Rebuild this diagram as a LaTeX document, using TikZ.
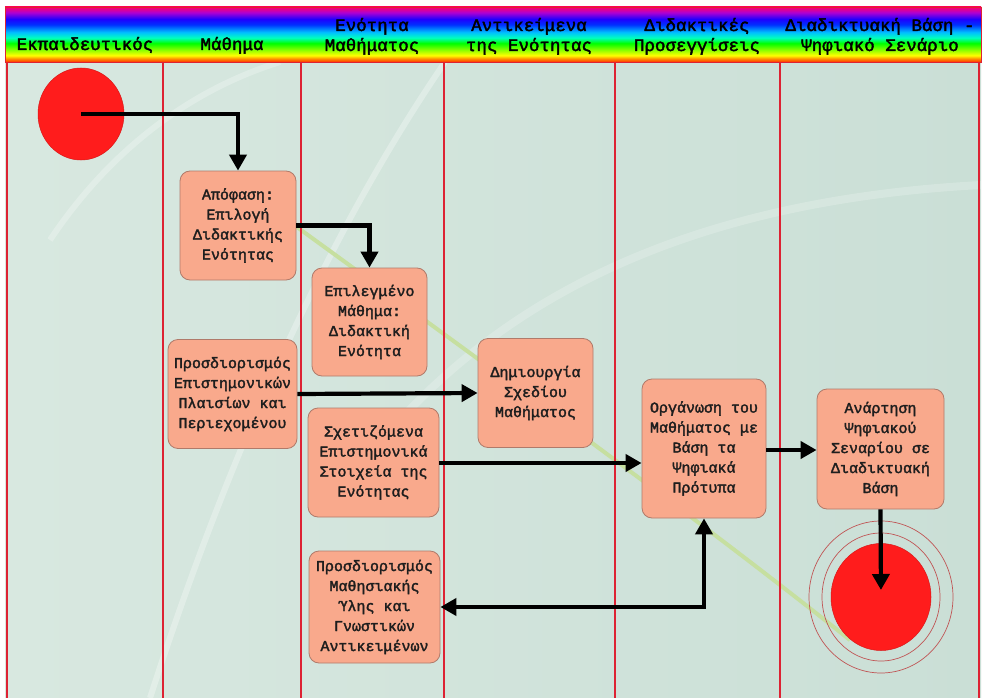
\documentclass[tikz,border=0pt]{standalone}
\usepackage{fontspec}
\newfontfamily\monof[FakeBold=2.2]{Liberation Mono}
\usetikzlibrary{arrows.meta,shapes.geometric}
\definecolor{bgL}{HTML}{D8E8E0}
\definecolor{bgR}{HTML}{CADFD6}
\definecolor{lane}{HTML}{DD2233}
\definecolor{boxfill}{HTML}{F9A98C}
\definecolor{boxline}{HTML}{B07A6A}
\definecolor{startred}{HTML}{FF1C1C}
\definecolor{ringred}{HTML}{C05555}
\definecolor{greenline}{HTML}{C6DFA0}
\definecolor{txt}{HTML}{1E1E1E}
\pgfdeclareverticalshading{rainbowhead}{100bp}{%
rgb(0bp)=(1,0.19,0);
rgb(25bp)=(1,0.19,0);
rgb(28bp)=(1,0.56,0);
rgb(31bp)=(1,1,0);
rgb(35bp)=(0.63,1,0);
rgb(42bp)=(0,1,0);
rgb(47bp)=(0,1,0.75);
rgb(52bp)=(0,0.75,1);
rgb(59bp)=(0,0.19,1);
rgb(64bp)=(0.12,0,1);
rgb(70bp)=(0.69,0,0.82);
rgb(75bp)=(1,0,0.4);
rgb(100bp)=(1,0,0.4)}
\tikzset{
  hdr/.style={font=\monof\fontsize{17.5}{20}\selectfont, text=black, inner sep=0pt, anchor=base},
  box/.style={rounded corners=10pt, fill=boxfill, draw=boxline, line width=0.8pt,
    align=center, font=\monof\fontsize{15}{20}\selectfont, text=txt, inner sep=2pt},
  arr/.style={line width=4.2pt, black, -{Triangle[length=16pt,width=17pt]}},
  arrboth/.style={line width=4.2pt, black, {Triangle[length=16pt,width=17pt]}-{Triangle[length=16pt,width=17pt]}},
  lanel/.style={lane, line width=2pt},
  streak/.style={white, opacity=0.3, line width=6pt},
}
\begin{document}
\begin{tikzpicture}[x=1pt,y=-1pt]
\useasboundingbox (0,0) rectangle (985,698);
\fill[white] (0,0) rectangle (985,698);
% background
\shade[left color=bgL, right color=bgR] (5,62) rectangle (981,698);
\draw[streak] (150,698) .. controls (230,450) and (330,230) .. (445,62);
\draw[streak, opacity=0.25] (50,240) .. controls (110,150) and (190,90) .. (280,62);
\draw[streak, opacity=0.2, line width=8pt] (400,420) .. controls (520,290) and (700,200) .. (981,185);
\draw[greenline, line width=4pt] (290,222) .. controls (480,360) and (700,520) .. (850,640);
% header
\shade[shading=rainbowhead] (5,7) rectangle (981,62);
\draw[lane, line width=0.8pt] (5,7) rectangle (981,62);
% lanes
\foreach \x in {7,163,301,444,615,780,979} \draw[lanel] (\x,62) -- (\x,698);
% header texts
\node[hdr] (h1) at (85,50) {Εκπαιδευτικός};
\node[hdr] (h2) at (232,50) {Μάθημα};
\node[hdr] (h3a) at (372,31) {Ενότητα};
\node[hdr] (h3b) at (372,51) {Μαθήματος};
\node[hdr] (h4a) at (529,31) {Αντικείμενα};
\node[hdr] (h4b) at (529,51) {της Ενότητας};
\node[hdr] (h5a) at (697,31) {Διδακτικές};
\node[hdr] (h5b) at (697,51) {Προσεγγίσεις};
\node[hdr] (h6a) at (880,31) {Διαδικτυακή Βάση -};
\node[hdr] (h6b) at (880,51) {Ψηφιακό Σενάριο};
% start
\node[ellipse, fill=startred, draw=startred!85!black, line width=0.5pt, minimum width=86pt, minimum height=92pt, inner sep=0pt] (start) at (81,114) {};
% boxes
\node[box, minimum width=116pt, minimum height=109pt] (A) at (238,225.5) {Απόφαση:\\Επιλογή\\Διδακτικής\\Ενότητας};
\node[box, minimum width=115pt, minimum height=108pt] (B) at (369.5,322) {Επιλεγμένο\\Μάθημα:\\Διδακτική\\Ενότητα};
\node[box, minimum width=129pt, minimum height=109pt] (C) at (232.5,394) {Προσδιορισμός\\Επιστημονικών\\Πλαισίων και\\Περιεχομένου};
\node[box, minimum width=115pt, minimum height=109pt] (D) at (535.5,393) {Δημιουργία\\Σχεδίου\\Μαθήματος};
\node[box, minimum width=131pt, minimum height=109pt] (E) at (373.5,462.5) {Σχετιζόμενα\\Επιστημονικά\\Στοιχεία της\\Ενότητας};
\node[box, minimum width=124pt, minimum height=139pt] (F) at (704,448.5) {Οργάνωση του\\Μαθήματος με\\Βάση τα\\Ψηφιακά\\Πρότυπα};
\node[box, minimum width=127pt, minimum height=120pt] (G) at (880.5,449) {Ανάρτηση\\Ψηφιακού\\Σεναρίου σε\\Διαδικτυακή\\Βάση};
\node[box, minimum width=131pt, minimum height=112pt] (H) at (374.5,607) {Προσδιορισμός\\Μαθησιακής\\Ύλης και\\Γνωστικών\\Αντικειμένων};
% end
\node[ellipse, draw=ringred, line width=0.7pt, minimum width=144pt, minimum height=152pt, inner sep=0pt] (ring2) at (881,597) {};
\node[ellipse, draw=ringred, line width=0.7pt, minimum width=118pt, minimum height=128pt, inner sep=0pt] (ring1) at (881,597) {};
\node[ellipse, fill=startred, draw=startred!85!black, line width=0.5pt, minimum width=100pt, minimum height=107pt, inner sep=0pt] (endc) at (881,597) {};
% arrows
\draw[arr] (start.center) -| (A.north);
\draw[arr] (A.east) -| (B.north);
\draw[arr] (C.east) -- (D.west);
\draw[arr] (E.east |- 0,463) -- (F.west |- 0,463);
\draw[arr] (F.east |- 0,450) -- (G.west |- 0,450);
\draw[arr, shorten >=7pt] (G.south) -- (endc.center);
\draw[arrboth] (H.east) -| (F.south);
\end{tikzpicture}
\end{document}
